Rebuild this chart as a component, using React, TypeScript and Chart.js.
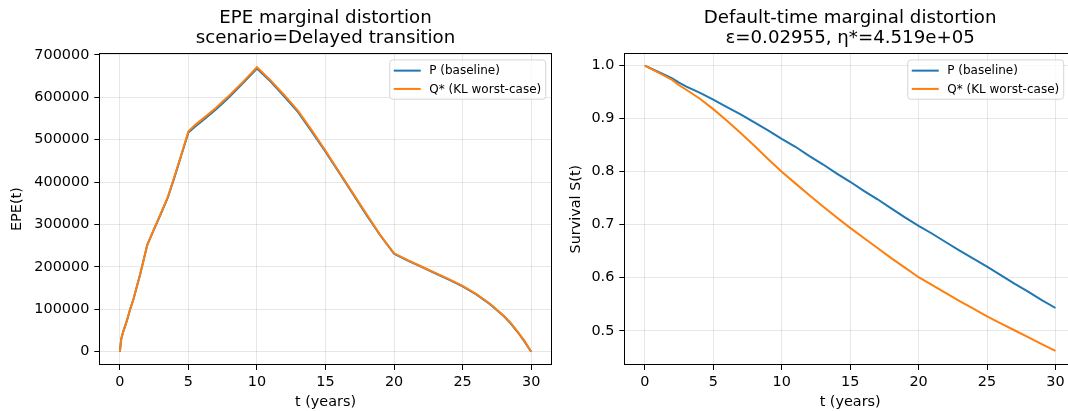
import React, { useEffect, useRef } from 'react';
import { Chart, registerables } from 'chart.js';

Chart.register(...registerables);

// ---------------- data ----------------
const EPE_T = [0, 0.1, 0.25, 0.5, 0.75, 1, 1.5, 2, 2.5, 3, 3.5, 4, 4.5, 5, 5.5, 6, 7, 7.5, 8, 9, 10, 11, 12, 13, 14, 15, 16, 17, 18, 19, 20, 21, 22, 23, 24, 25, 26, 27, 28, 28.5, 29, 29.5, 30];
const EPE_P = [0, 30000, 48000, 72000, 100000, 125000, 185000, 252000, 289000, 326000, 364000, 413000, 465000, 517000, 531000, 544000, 571000, 586000, 601000, 634000, 668000, 637000, 602000, 565000, 519000, 472000, 422000, 372000, 322000, 274000, 231000, 215000, 200000, 185000, 170000, 154000, 135000, 112000, 84000, 67000, 47000, 25000, 0];
const EPE_Q = [0, 30000, 48000, 72000, 100000, 125000, 185000, 252000, 290000, 327000, 365000, 415000, 467000, 520000, 535000, 548000, 575000, 590000, 605000, 637000, 671000, 640000, 605000, 568000, 522000, 474000, 424000, 374000, 324000, 275000, 232000, 216000, 201000, 186000, 171000, 155000, 136000, 113000, 85000, 68000, 48000, 26000, 0];

const SURV_T = [0, 1, 2, 2.5, 3, 4, 5, 6, 7, 8, 9, 10, 11, 12, 13, 14, 15, 16, 17, 18, 19, 20, 21, 22, 23, 24, 25, 26, 27, 28, 29, 30];
const SURV_P = [1.0, 0.988, 0.976, 0.968, 0.961, 0.949, 0.936, 0.922, 0.908, 0.893, 0.878, 0.862, 0.847, 0.830, 0.814, 0.797, 0.781, 0.764, 0.748, 0.731, 0.714, 0.698, 0.683, 0.667, 0.651, 0.636, 0.621, 0.605, 0.589, 0.574, 0.558, 0.543];
const SURV_Q = [1.0, 0.987, 0.973, 0.963, 0.955, 0.938, 0.918, 0.896, 0.873, 0.849, 0.824, 0.800, 0.778, 0.756, 0.735, 0.714, 0.694, 0.675, 0.656, 0.637, 0.619, 0.601, 0.586, 0.571, 0.556, 0.542, 0.527, 0.514, 0.501, 0.488, 0.475, 0.462];

const X_TICKS = [0, 5, 10, 15, 20, 25, 30];
const EPE_TICKS = [0, 100000, 200000, 300000, 400000, 500000, 600000, 700000];
const SURV_TICKS = [0.5, 0.6, 0.7, 0.8, 0.9, 1.0];

const SERIES_NAMES = ['P (baseline)', 'Q* (KL worst-case)'];
const LEFT_TITLE = ['EPE marginal distortion', 'scenario=Delayed transition'];
const RIGHT_TITLE = ['Default-time marginal distortion', 'ε=0.02955, η*=4.519e+05'];

// ---------------- style ----------------
const FONT = "'DejaVu Sans', sans-serif";
const BLUE = '#1f77b4';
const ORANGE = '#ff7f0e';
const GRID = 'rgba(176,176,176,0.3)';

const framePlugin = {
  id: 'mplFrame',
  afterDatasetsDraw(chart: any, _args: any, opts: any) {
    const { ctx, chartArea: a } = chart;
    ctx.save();
    const l = Math.round(a.left) + 0.5;
    const t = Math.round(a.top) + 0.5;
    const r = Math.round(a.right) - 0.5;
    const b = Math.round(a.bottom) - 0.5;
    ctx.strokeStyle = '#000';
    ctx.lineWidth = 1;
    ctx.strokeRect(l, t, r - l, b - t);

    const fs = 12;
    ctx.font = `${fs}px ${FONT}`;
    const items = opts.items || [];
    let tw = 0;
    items.forEach((it: any) => { tw = Math.max(tw, ctx.measureText(it.label).width); });
    const w = 4 + 27 + 8.5 + tw + 4.5;
    const h = 39.3;
    const right = a.right - (opts.rightGap ?? 6);
    const left = right - w;
    const top = a.top + 6.7;
    const rad = 3;
    ctx.beginPath();
    ctx.moveTo(left + rad, top);
    ctx.lineTo(right - rad, top);
    ctx.arcTo(right, top, right, top + rad, rad);
    ctx.lineTo(right, top + h - rad);
    ctx.arcTo(right, top + h, right - rad, top + h, rad);
    ctx.lineTo(left + rad, top + h);
    ctx.arcTo(left, top + h, left, top + h - rad, rad);
    ctx.lineTo(left, top + rad);
    ctx.arcTo(left, top, left + rad, top, rad);
    ctx.closePath();
    ctx.fillStyle = 'rgba(255,255,255,0.8)';
    ctx.fill();
    ctx.strokeStyle = 'rgba(204,204,204,0.8)';
    ctx.lineWidth = 1;
    ctx.stroke();
    items.forEach((it: any, i: number) => {
      const cy = top + 10.7 + i * 18.3;
      ctx.strokeStyle = it.color;
      ctx.lineWidth = 2;
      ctx.beginPath();
      ctx.moveTo(left + 4, cy);
      ctx.lineTo(left + 31, cy);
      ctx.stroke();
      ctx.fillStyle = '#000';
      ctx.textBaseline = 'middle';
      ctx.textAlign = 'left';
      ctx.fillText(it.label, left + 39.5, cy + 0.5);
    });
    ctx.restore();
  },
};

function buildConfig(p: {
  xs: number[];
  p: number[];
  q: number[];
  title: string[];
  yTitle: string;
  yMin: number;
  yMax: number;
  yTicks: number[];
  yFmt: (v: number) => string;
  yWidth: number;
  yTitlePad: number;
  padRight: number;
  legendGap: number;
}) {
  const tickFont = { family: FONT, size: 14.4 };
  return {
    type: 'line',
    data: {
      datasets: [
        {
          label: SERIES_NAMES[0],
          data: p.xs.map((x, i) => ({ x, y: p.p[i] })),
          borderColor: BLUE,
          backgroundColor: BLUE,
          borderWidth: 2,
          pointRadius: 0,
          tension: 0,
          fill: false,
          order: 1,
        },
        {
          label: SERIES_NAMES[1],
          data: p.xs.map((x, i) => ({ x, y: p.q[i] })),
          borderColor: ORANGE,
          backgroundColor: ORANGE,
          borderWidth: 2,
          pointRadius: 0,
          tension: 0,
          fill: false,
          order: 0,
        },
      ],
    },
    options: {
      responsive: false,
      animation: false,
      events: [],
      layout: { padding: { left: 0, right: p.padRight, top: 0, bottom: 0 } },
      plugins: {
        legend: { display: false },
        tooltip: { enabled: false },
        title: {
          display: true,
          fullSize: false,
          text: p.title,
          color: '#000',
          font: { family: FONT, size: 18.2, weight: 'normal', lineHeight: 1.13 },
          padding: { top: 7.5, bottom: 4.6 },
        },
        mplFrame: {
          rightGap: p.legendGap,
          items: [
            { label: SERIES_NAMES[0], color: BLUE },
            { label: SERIES_NAMES[1], color: ORANGE },
          ],
        },
      },
      scales: {
        x: {
          type: 'linear',
          min: -1.5,
          max: 31.5,
          afterBuildTicks: (s: any) => { s.ticks = X_TICKS.map((v) => ({ value: v })); },
          afterFit: (s: any) => { s.height = 46; },
          ticks: { font: tickFont, color: '#000', padding: 4, maxRotation: 0, autoSkip: false, callback: (v: any) => String(v) },
          grid: { color: GRID, lineWidth: 1, tickColor: '#000', tickLength: 5, drawTicks: true },
          border: { display: false },
          title: {
            display: true,
            text: 't (years)',
            color: '#000',
            font: { family: FONT, size: 14.4, lineHeight: 1.2 },
            padding: { top: 0, bottom: 0 },
          },
        },
        y: {
          type: 'linear',
          min: p.yMin,
          max: p.yMax,
          afterBuildTicks: (s: any) => { s.ticks = p.yTicks.map((v) => ({ value: v })); },
          afterFit: (s: any) => { s.width = p.yWidth; },
          ticks: { font: tickFont, color: '#000', padding: 5, autoSkip: false, callback: (v: any) => p.yFmt(Number(v)) },
          grid: { color: GRID, lineWidth: 1, tickColor: '#000', tickLength: 5, drawTicks: true },
          border: { display: false },
          title: {
            display: true,
            text: p.yTitle,
            color: '#000',
            font: { family: FONT, size: 14.4, lineHeight: 1.2 },
            padding: { top: p.yTitlePad, bottom: 0 },
          },
        },
      },
    },
    plugins: [framePlugin],
  } as any;
}

function Panel(props: { left: number; width: number; config: any }) {
  const ref = useRef<HTMLCanvasElement | null>(null);
  useEffect(() => {
    if (!ref.current) return;
    const chart = new Chart(ref.current, props.config);
    return () => chart.destroy();
  }, []);
  return (
    <div style={{ position: 'absolute', left: props.left, top: 0, width: props.width, height: 411 }}>
      <canvas ref={ref} width={props.width} height={411} style={{ width: props.width, height: 411, display: 'block' }} />
    </div>
  );
}

export default function App() {
  const leftCfg = buildConfig({
    xs: EPE_T,
    p: EPE_P,
    q: EPE_Q,
    title: LEFT_TITLE,
    yTitle: 'EPE(t)',
    yMin: -31400,
    yMax: 704000,
    yTicks: EPE_TICKS,
    yFmt: (v) => String(Math.round(v)),
    yWidth: 99.3,
    yTitlePad: 9,
    padRight: 8.3,
    legendGap: 6,
  });
  const rightCfg = buildConfig({
    xs: SURV_T,
    p: SURV_P,
    q: SURV_Q,
    title: RIGHT_TITLE,
    yTitle: 'Survival S(t)',
    yMin: 0.4355,
    yMax: 1.0234,
    yTicks: SURV_TICKS,
    yFmt: (v) => v.toFixed(1),
    yWidth: 64.3,
    yTitlePad: 7.4,
    padRight: 44,
    legendGap: 12.3,
  });
  return (
    <div style={{ position: 'fixed', left: 0, top: 0, width: 1068, height: 411, overflow: 'hidden', background: '#fff' }}>
      <Panel left={0} width={560} config={leftCfg} />
      <Panel left={560} width={560} config={rightCfg} />
    </div>
  );
}
